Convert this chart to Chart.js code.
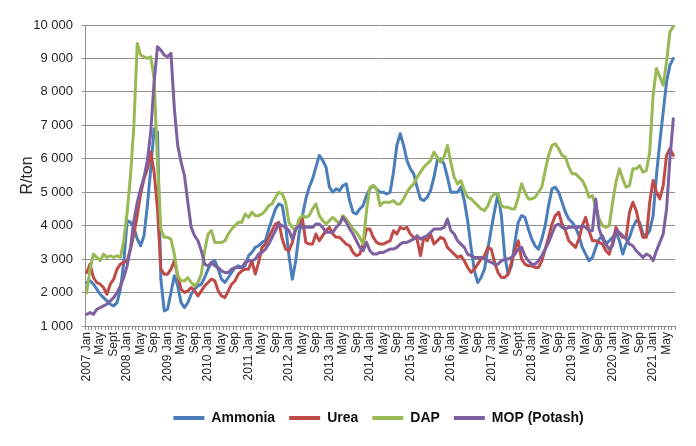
<!DOCTYPE html>
<html>
<head>
<meta charset="utf-8">
<script src="https://cdn.jsdelivr.net/npm/chart.js@4.4.1/dist/chart.umd.min.js"></script>
<style>
html,body{margin:0;padding:0;background:#ffffff;}
#wrap{width:696px;height:446px;position:relative;}
</style>
</head>
<body>
<div id="wrap"><canvas id="c" width="696" height="446"></canvas></div>
<script>
const seriesNames = ['Ammonia', 'Urea', 'DAP', 'MOP (Potash)'];
const monthNames = ['Jan','Feb','Mar','Apr','May','Jun','Jul','Aug','Sep','Oct','Nov','Dec'];
const tickLabels = [
  '2007 Jan','May','Sept','2008 Jan','May','Sep','2009 Jan','May','Sep','2010 Jan','May','Sep',
  '2011 Jan','May','Sep','2012 Jan','May','Sep','2013 Jan','May','Sep','2014 Jan','May','Sep',
  '2015 Jan','May','Sep','2016 Jan','May','Sep','2017 Jan','May','Sept','2018 Jan','May','Sep',
  '2019 Jan','May','Sep','2020 Jan','May','Sep','2021 Jan','May'
];
const yTicks = [1000,2000,3000,4000,5000,6000,7000,8000,9000,10000];

const ammonia = [
  2300,2350,2250,2100,1950,1850,1750,1650,1600,1700,2100,2900,
  4150,4100,3950,3600,3400,3700,4600,5700,6900,6800,2400,1450,
  1500,2000,2500,2200,1700,1550,1700,1950,2100,2200,2250,2450,
  2700,2900,2950,2700,2400,2300,2450,2600,2750,2800,2750,2800,
  3100,3200,3350,3400,3500,3550,3900,4200,4500,4650,4600,4000,
  3100,2400,2950,3750,4300,4800,5150,5400,5750,6100,5950,5750,
  5150,5000,5100,5050,5200,5250,4750,4400,4350,4500,4600,4900,
  5100,5200,5100,5000,5000,4950,5000,5600,6400,6750,6400,5950,
  5700,5550,5150,4800,4750,4850,5050,5450,5950,6000,5850,5450,
  5000,5000,5000,5150,4750,4150,3350,2650,2300,2450,2700,3300,
  3900,4450,4950,4300,3100,2550,2800,3500,4100,4300,4250,3900,
  3600,3400,3300,3600,4000,4600,5100,5150,5000,4700,4400,4200,
  4100,3950,3700,3350,3150,2950,3050,3350,3600,3700,3450,3550,
  3650,3800,3550,3150,3450,3650,3950,4150,4100,3750,3700,3850,
  4300,5500,6500,7400,8300,8800,9000
];
const urea = [
  2600,2850,2450,2300,2250,2150,1950,2250,2400,2700,2850,2900,
  2950,3300,3750,4300,4950,5400,5700,6200,5600,4500,2700,2550,
  2550,2700,2950,2500,2100,2000,2050,2150,2050,1900,2050,2200,
  2300,2400,2350,2050,1900,1850,2050,2250,2350,2550,2650,2700,
  2700,2950,2550,2900,3350,3450,3650,3850,4050,4100,3600,3300,
  3250,3500,3900,4100,4200,3500,3450,3450,3750,3550,3700,3850,
  3950,3750,3650,3650,3550,3450,3400,3200,3100,3150,3450,3900,
  3900,3650,3500,3450,3450,3500,3550,3850,3750,3950,3900,3950,
  3750,3650,3600,3100,3650,3550,3750,3450,3550,3650,3600,3350,
  3250,3150,3050,3100,2950,2750,2600,2700,2850,3000,3100,3350,
  3300,2900,2600,2450,2450,2550,2900,3250,3550,3000,2850,2800,
  2800,2750,2750,2950,3300,3650,4050,4300,4400,4050,3850,3550,
  3450,3350,3600,4000,4250,3850,3550,3550,3500,3450,3250,3150,
  3500,3950,3750,3650,3650,4400,4700,4450,4000,3650,3650,4700,
  5350,5000,4800,5200,6100,6300,6100
];
const dap = [
  2000,2700,3150,3050,2950,3150,3050,3100,3050,3100,3050,3550,
  4400,5500,7000,9450,9100,9050,9000,9050,8400,5900,3900,3650,
  3650,3600,3150,2500,2350,2350,2450,2300,2200,2300,2550,3250,
  3750,3850,3500,3500,3500,3550,3750,3900,4000,4100,4100,4350,
  4250,4400,4300,4300,4350,4450,4600,4650,4850,5000,4950,4700,
  4100,3950,3850,4200,4300,4250,4300,4500,4650,4300,4150,4050,
  4150,4250,4150,4050,4300,4200,4050,3900,3800,3650,3450,4450,
  5150,5200,5100,4600,4700,4700,4700,4750,4650,4650,4800,5000,
  5150,5250,5450,5600,5750,5850,5950,6200,6050,5900,6050,6400,
  5900,5450,5250,5350,5050,4850,4800,4700,4600,4500,4450,4600,
  4850,4950,4950,4600,4550,4550,4500,4500,4850,5250,5000,4800,
  4800,4850,5000,5150,5650,6100,6400,6450,6300,6100,6050,5750,
  5550,5550,5450,5350,5150,4850,4900,4550,4200,4000,3950,4000,
  4700,5300,5700,5400,5150,5200,5700,5700,5800,5600,5650,6200,
  7900,8700,8450,8200,8900,9800,9950
];
const mop = [
  1350,1400,1350,1500,1550,1600,1650,1750,1850,2000,2200,2450,
  2800,3350,4150,4700,5100,5450,5950,6800,8300,9350,9250,9100,
  9050,9150,7500,6400,5900,5500,4700,3950,3700,3550,3250,2850,
  2800,2900,2800,2750,2650,2600,2600,2700,2750,2750,2750,2900,
  2950,2950,3000,3150,3200,3300,3450,3650,3850,4050,4000,3950,
  3850,3600,3900,4000,3950,3950,3950,3950,4050,4050,3950,3800,
  3800,3800,3950,4050,4250,4100,3900,3750,3550,3350,3250,3500,
  3250,3150,3150,3200,3200,3250,3300,3300,3350,3450,3500,3500,
  3550,3600,3700,3600,3650,3700,3800,3900,3900,3900,3950,4200,
  3850,3750,3550,3450,3350,3150,3100,3050,3050,3050,3000,2950,
  2900,2850,2850,2950,3000,3000,3050,3150,3300,3350,3100,2950,
  2850,2850,2950,3100,3300,3500,3750,4000,4050,3950,3900,3950,
  3950,3950,3950,4000,3950,3850,3850,4800,3900,3600,3450,3300,
  3400,3850,3800,3700,3600,3450,3400,3250,3150,3050,3150,3100,
  2950,3250,3500,3750,4500,6000,7200
];
const seriesColors = ['#4A7EBB', '#BE4B48', '#98B954', '#7D60A0'];

const months = [];
for (let i = 0; i < ammonia.length; i++) {
  months.push((2007 + Math.floor(i / 12)) + ' ' + monthNames[i % 12]);
}

const FONT = "'Liberation Sans', Arial, sans-serif";
const GRID = '#8f8f8f';
const TEXT = '#262626';

const shiftLegend = {
  id: 'shiftLegend',
  afterLayout(chart) {
    const dx = 41;
    chart.legend.left += dx;
    chart.legend.right += dx;
  }
};

const seriesValues = [ammonia, urea, dap, mop];
new Chart(document.getElementById('c'), {
  type: 'line',
  data: {
    labels: months,
    datasets: seriesNames.map((n, k) => ({
      label: n,
      data: seriesValues[k],
      borderColor: seriesColors[k],
      backgroundColor: seriesColors[k],
      borderWidth: 3,
      pointRadius: 0,
      pointHoverRadius: 0,
      tension: 0,
      fill: false,
      order: 4 - k,
      borderJoinStyle: 'round',
      borderCapStyle: 'round'
    }))
  },
  options: {
    responsive: false,
    animation: false,
    events: [],
    layout: { padding: { left: 0, right: 21, top: 25, bottom: 11 } },
    plugins: {
      tooltip: { enabled: false },
      legend: {
        position: 'bottom',
        align: 'center',
        labels: {
          font: { family: FONT, size: 14, weight: 'bold' },
          color: '#111111',
          boxWidth: 31,
          boxHeight: 4,
          padding: 14,
          sort: (a, b) => a.datasetIndex - b.datasetIndex,
          generateLabels: (chart) => {
            const items = Chart.defaults.plugins.legend.labels.generateLabels(chart);
            items.forEach(it => { it.lineWidth = 0; it.strokeStyle = 'rgba(0,0,0,0)'; });
            return items;
          }
        }
      }
    },
    scales: {
      x: {
        type: 'category',
        offset: true,
        grid: {
          display: true,
          offset: true,
          drawOnChartArea: false,
          drawTicks: true,
          tickLength: 4,
          color: GRID
        },
        border: { display: true, color: GRID, width: 1 },
        ticks: {
          autoSkip: false,
          minRotation: 90,
          maxRotation: 90,
          padding: 2,
          color: TEXT,
          font: { family: FONT, size: 12 },
          callback: (v, i) => (i % 4 === 0 ? tickLabels[i / 4] : '')
        },
        afterFit: (s) => { s.height = 71; }
      },
      y: {
        min: yTicks[0],
        max: yTicks[yTicks.length - 1],
        afterBuildTicks: (s) => { s.ticks = yTicks.map(v => ({ value: v })); },
        grid: {
          color: GRID,
          lineWidth: 1,
          drawTicks: true,
          tickLength: 3
        },
        border: { display: true, color: GRID, width: 1 },
        ticks: {
          padding: 9,
          color: TEXT,
          font: { family: FONT, size: 13 },
          callback: (v) => String(v).replace(/\B(?=(\d{3})+(?!\d))/g, '\u00a0')
        },
        title: {
          display: true,
          text: 'R/ton',
          color: TEXT,
          font: { family: FONT, size: 16 },
          padding: { top: 18, bottom: 0 }
        },
        afterFit: (s) => { s.width = 85; }
      }
    }
  },
  plugins: [shiftLegend]
});
</script>
</body>
</html>
